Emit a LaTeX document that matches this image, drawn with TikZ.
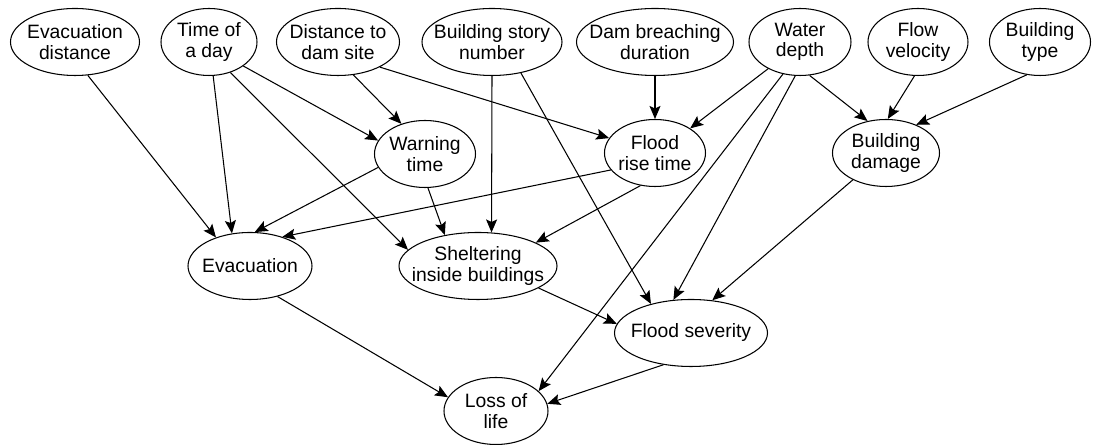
\documentclass[tikz,border=0pt]{standalone}
\usepackage{fontspec}
\setmainfont{Liberation Sans}
\usetikzlibrary{shapes.geometric,arrows.meta}

\begin{document}
\begin{tikzpicture}[
  var/.style={
    draw, line width=0.6pt, ellipse,
    minimum height=1.34cm, inner xsep=-8pt, inner ysep=0pt,
    font=\fontsize{11}{11.6}\selectfont, align=center
  },
  link/.style={
    line width=0.6pt,
    -{Stealth[length=2.6mm, width=2.2mm, inset=0.5mm]}
  },
]

\useasboundingbox (0,0) rectangle (21.9,8.9);

% top row
\node[var, minimum width=2.58cm] (evacdist) at (1.50, 8.06) {Evacuation\\distance};
\node[var, minimum width=1.92cm] (timeday) at (4.18, 8.06) {Time of\\a day};
\node[var, minimum width=2.46cm] (distdam) at (6.76, 8.06) {Distance to\\dam site};
\node[var, minimum width=2.80cm] (story) at (9.84, 8.06) {Building story\\number};
\node[var, minimum width=3.14cm] (breach) at (13.10, 8.06) {Dam breaching\\duration};
\node[var, minimum width=2.04cm] (depth) at (16.00, 8.06) {Water\\depth};
\node[var, minimum width=2.00cm] (velocity) at (18.36, 8.06) {Flow\\velocity};
\node[var, minimum width=2.02cm] (btype) at (20.80, 8.06) {Building\\type};

% middle rows
\node[var, minimum width=2.02cm] (warning) at (8.50, 5.82) {Warning\\time};
\node[var, minimum width=2.02cm] (rise) at (13.10, 5.84) {Flood\\rise time};
\node[var, minimum width=2.14cm] (damage) at (17.72, 5.84) {Building\\damage};
\node[var, minimum width=2.48cm] (evac) at (5.00, 3.58) {Evacuation};
\node[var, minimum width=3.16cm] (shelter) at (9.56, 3.58) {Sheltering\\inside buildings};
\node[var, minimum width=3.06cm] (severity) at (13.82, 2.24) {Flood severity};
\node[var, minimum width=2.08cm] (loss) at (9.92, 0.68) {Loss of\\life};

% links
\draw[link] (evacdist.-69) -- (evac.140);
\draw[link] (timeday.-83) -- (evac.119);
\draw[link] (timeday.-35) -- (warning.164);
\draw[link] (timeday.-55) -- (shelter.167);
\draw[link] (distdam.-65) -- (warning.128);
\draw[link] (distdam.-31) -- (rise.162);
\draw[link] (story.-90) -- (shelter.68);
\draw[link] (story.-47) -- (severity.144);
\draw[link] (breach.-90) -- (rise.90);
\draw[link] (depth.-140) -- (rise.35);
\draw[link] (depth.-74) -- (damage.120);
\draw[link] (depth.-118) -- (loss.25);
\draw[link] (depth.-98) -- (severity.118);
\draw[link] (velocity.-96) -- (damage.87);
\draw[link] (btype.-112) -- (damage.43);
\draw[link] (warning.-164) -- (evac.82);
\draw[link] (warning.-85) -- (shelter.137);
\draw[link] (rise.-159) -- (evac.42);
\draw[link] (rise.-114) -- (shelter.22);
\draw[link] (damage.-141) -- (severity.57);
\draw[link] (evac.-48) -- (loss.164);
\draw[link] (shelter.-20) -- (severity.173);
\draw[link] (severity.-131) -- (loss.8);

\end{tikzpicture}
\end{document}
